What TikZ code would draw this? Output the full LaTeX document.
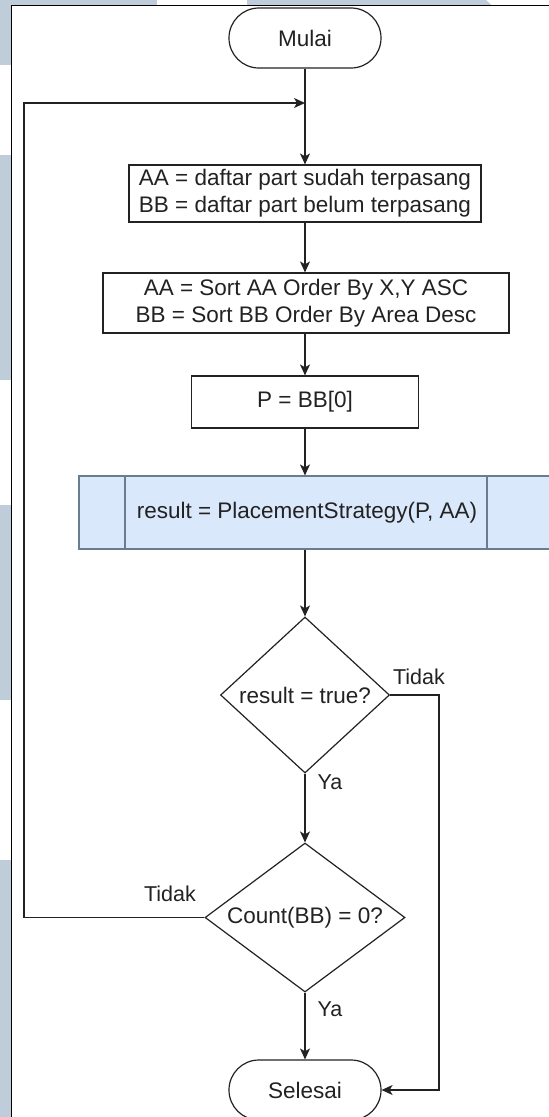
\documentclass[tikz,border=0pt]{standalone}
\usepackage{fontspec}
\setmainfont{Liberation Sans}
\usetikzlibrary{shapes.geometric,arrows.meta}
\definecolor{wm}{RGB}{191,205,219}
\definecolor{ink}{RGB}{34,34,34}
\definecolor{subfill}{RGB}{218,232,252}
\definecolor{subline}{RGB}{108,124,143}

\begin{document}
\begin{tikzpicture}[x=1pt,y=-1pt,
  every node/.style={font=\fontsize{22.5}{27}\selectfont, text=ink},
  term/.style={draw=ink, line width=1.2pt, rounded corners=29.9pt, minimum width=152pt, minimum height=60pt, inner sep=0pt},
  proc/.style={draw=ink, line width=1.2pt, inner sep=0pt, align=center},
  subproc/.style={draw=subline, fill=subfill, line width=1.2pt, inner sep=0pt},
  decide/.style={draw=ink, line width=1.2pt, diamond, inner sep=0pt},
  flow/.style={draw=ink, line width=1.3pt, -{Stealth[length=11pt,width=10pt,inset=3pt]}},
  lbl/.style={font=\fontsize{21.5}{25}\selectfont}
]
\clip (0,0) rectangle (549,1117);
\fill[white] (0,0) rectangle (549,1117);
% light margin pattern
\fill[wm] (0,0) rectangle (157,5.5);
\fill[wm] (247,0) -- (486,0) -- (492,5.5) -- (247,5.5) -- cycle;
\fill[wm] (0,0) rectangle (11.5,65);
\fill[wm] (0,155) rectangle (11.5,380);
\fill[wm] (0,505) rectangle (11.5,700);
\fill[wm] (0,860) rectangle (11.5,1117);
% page frame
\draw[black, line width=1pt] (11.5,1117) -- (11.5,5.5) -- (549,5.5);

% flowchart nodes
\node[term] (start) at (305,38) {Mulai};
\node[proc, minimum width=352pt, minimum height=57pt] (b1) at (305,193.5)
  {AA = daftar part sudah terpasang\\BB = daftar part belum terpasang};
\node[proc, minimum width=406pt, minimum height=60pt] (b2) at (306,303)
  {AA = Sort AA Order By X,Y ASC\\BB = Sort BB Order By Area Desc};
\node[proc, minimum width=227pt, minimum height=52pt] (b3) at (305,402) {P = BB[0]};
\node[subproc, minimum width=490pt, minimum height=73pt] (sub) at (324,512.5) {};
\draw[subline, line width=1.2pt] (125,476) -- (125,549);
\draw[subline, line width=1.2pt] (487,476) -- (487,549);
\node (subtext) at (307,512.5) {result = PlacementStrategy(P, AA)};
\node[decide, minimum width=169pt, minimum height=156pt, aspect=1.08] (d1) at (305,695) {result = true?};
\node[decide, minimum width=200pt, minimum height=149pt, aspect=1.34] (d2) at (305,917.5) {Count(BB) = 0?};
\node[term] (end) at (305,1090) {Selesai};

% connectors
\coordinate (join) at (305,103);
\coordinate (loopcorner) at (24,917.5);
\coordinate (rightrail) at (439,695);
\draw[flow] (start.south) -- (start.south |- b1.north);
\draw[flow] (b1.south) -- (b1.south |- b2.north);
\draw[flow] (b3.north |- b2.south) -- (b3.north);
\draw[flow] (b3.south) -- (b3.south |- sub.north);
\draw[flow] (d1.north |- sub.south) -- (d1.north);
\draw[flow] (d1.south) -- (d2.north);
\draw[flow] (d2.south) -- (end.north);
\draw[flow] (d2.west) -- (loopcorner) |- (join);
\draw[flow] (d1.east) -- (rightrail) |- (end.east);

% branch labels
\node[lbl] (tidak1) at (419,677) {Tidak};
\node[lbl] (ya1) at (330,782) {Ya};
\node[lbl] (tidak2) at (170,894) {Tidak};
\node[lbl] (ya2) at (330,1009) {Ya};
\end{tikzpicture}
\end{document}
